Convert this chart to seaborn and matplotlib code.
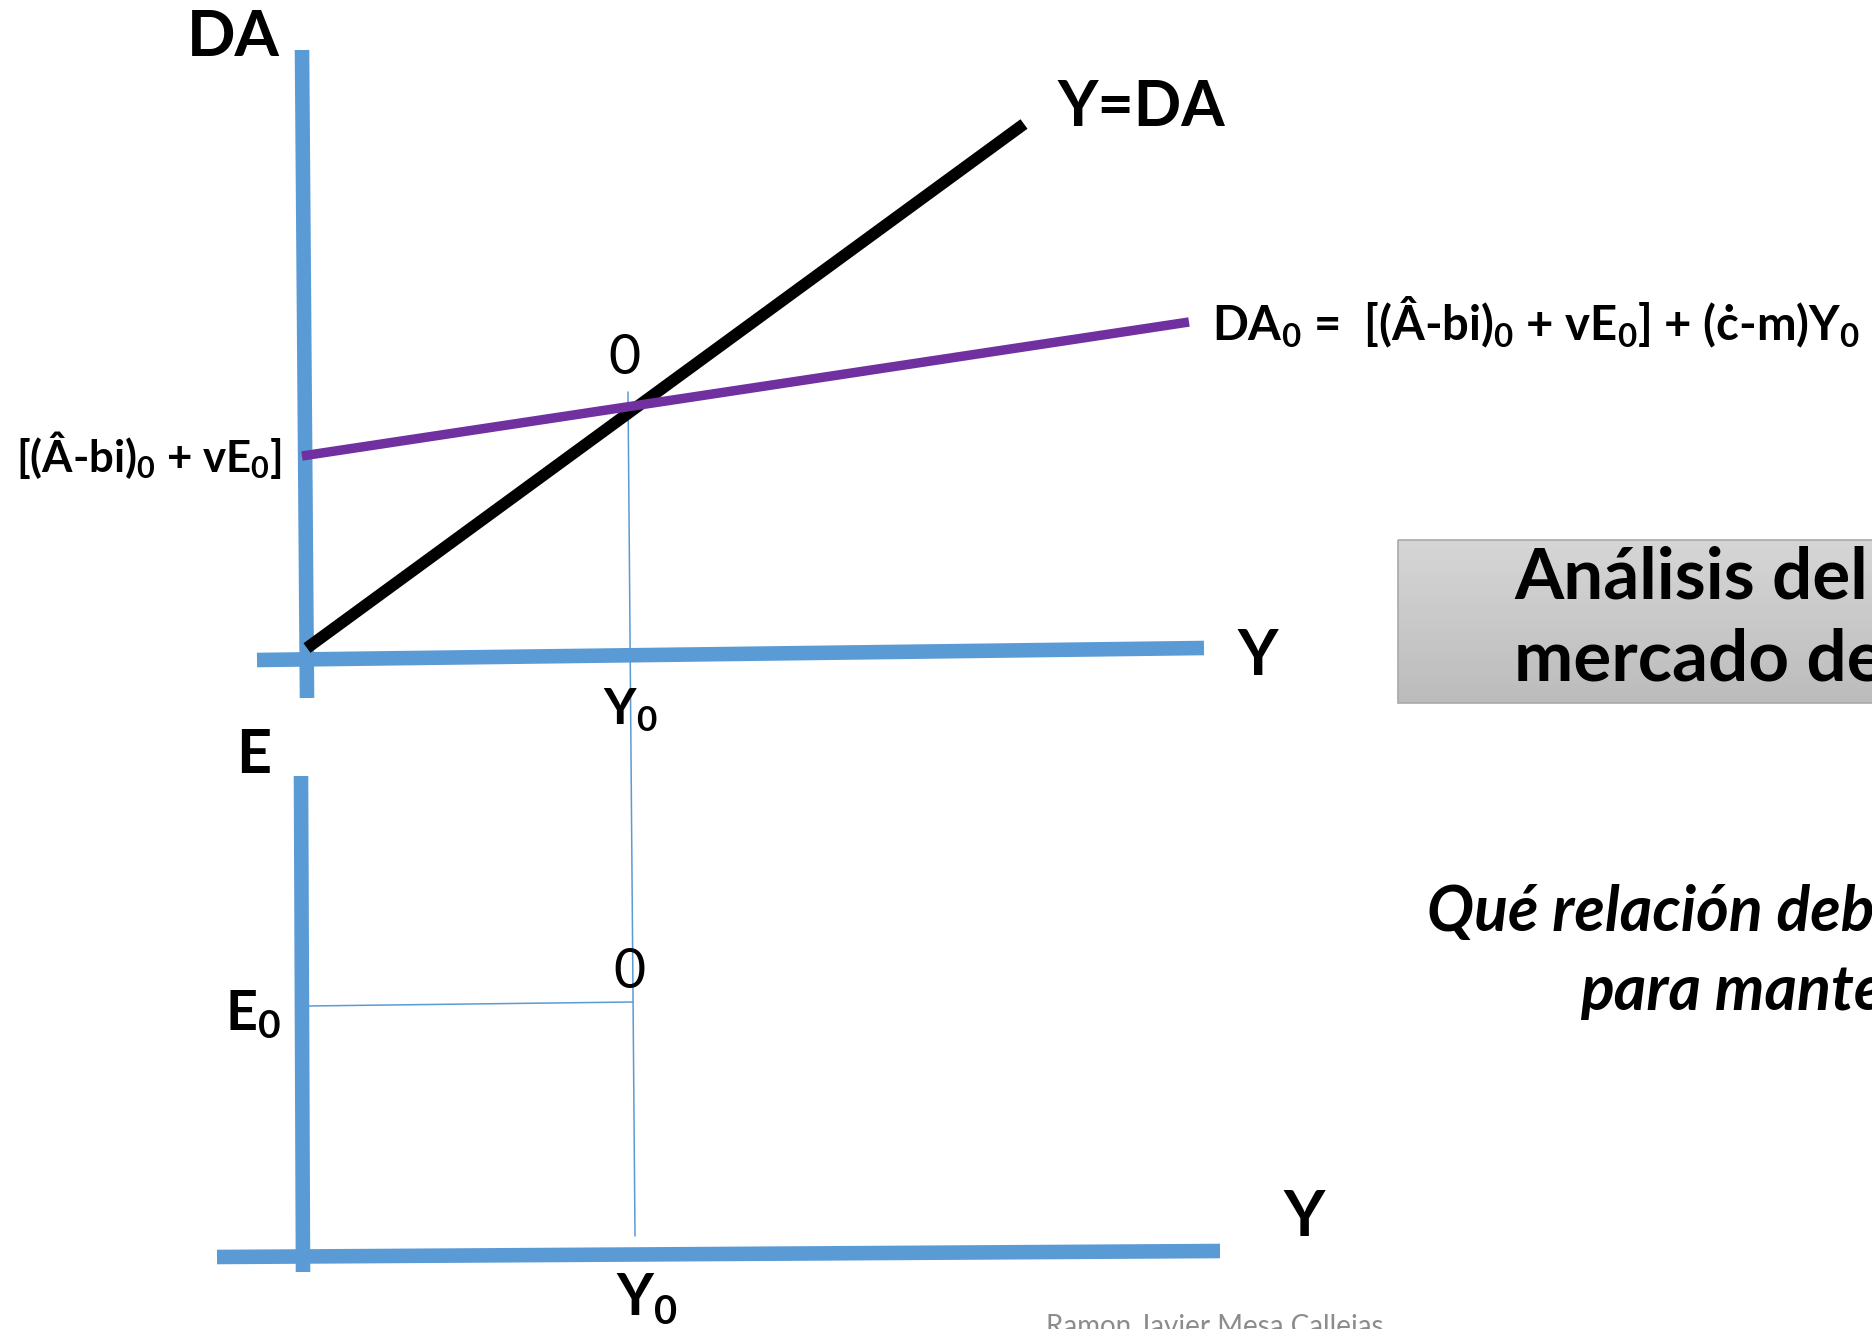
import numpy as np
import pandas as pd
import matplotlib
matplotlib.use('Agg')
import matplotlib.pyplot as plt
from matplotlib.patches import Rectangle
import seaborn as sns

# slide coordinates (pixels, y grows downward)
axis_x = [[302, 307], [257, 1204], [301, 303], [217, 1220]]
axis_y = [[50, 698], [660, 648], [776, 1272], [1257, 1251]]

ydA_x = [307, 1024]          # Y = DA (45 degree line)
ydA_y = [648, 124]
da0_x = [302, 1189]          # DA0 line
da0_y = [456, 322]

guide_x = [[628, 635], [307, 633]]   # Y0 vertical and E0 horizontal guides
guide_y = [[392, 1236], [1006, 1002]]

BLUE = '#5B9BD5'
PURPLE = '#7030A0'

sns.set_theme(style='white')
plt.rcParams['font.family'] = ['Lato', 'DejaVu Sans']
plt.rcParams['mathtext.fontset'] = 'custom'
plt.rcParams['mathtext.rm'] = 'Lato:bold'
plt.rcParams['mathtext.bf'] = 'Lato:bold'
plt.rcParams['mathtext.it'] = 'Lato:bold'
plt.rcParams['mathtext.default'] = 'bf'

fig = plt.figure(figsize=(18.72, 13.29), dpi=100)
ax = fig.add_axes([0, 0, 1, 1])

# title box with soft gray gradient
grad = np.linspace(0, 1, 100).reshape(-1, 1)
ax.imshow(grad, cmap=matplotlib.colors.LinearSegmentedColormap.from_list('g', ['#d6d6d6', '#bcbcbc']),
          extent=[1398, 1900, 703, 540], aspect='auto', zorder=0)
ax.add_patch(Rectangle((1398, 540), 520, 163, fill=False, edgecolor='#a9a9a9', lw=1.2, zorder=1))

for xs, ys in zip(axis_x, axis_y):
    sns.lineplot(x=xs, y=ys, sort=False, estimator=None, ax=ax, color=BLUE, lw=10.5, solid_capstyle='butt')
for xs, ys in zip(guide_x, guide_y):
    sns.lineplot(x=xs, y=ys, sort=False, estimator=None, ax=ax, color=BLUE, lw=1.1)
sns.lineplot(x=ydA_x, y=ydA_y, sort=False, estimator=None, ax=ax, color='black', lw=8.5, solid_capstyle='butt')
sns.lineplot(x=da0_x, y=da0_y, sort=False, estimator=None, ax=ax, color=PURPLE, lw=6.8, solid_capstyle='butt')

ax.set_xlim(0, 1872)
ax.set_ylim(1329, 0)
ax.axis('off')

bold = dict(fontweight='bold', color='black')
ax.text(233, 38, 'DA', fontsize=46, ha='center', va='center', **bold)
ax.text(1057, 108, 'Y=DA', fontsize=45, ha='left', va='center', **bold)
ax.text(1212, 322, 'DA$_0$ =  [(Â-bi)$_0$ + vE$_0$] + (ċ-m)Y$_0$', fontsize=34, ha='left', va='center', **bold)
ax.text(16, 455, '[(Â-bi)$_0$ + vE$_0$]', fontsize=31.5, ha='left', va='center', **bold)
ax.text(624, 358, '0', fontsize=40, ha='center', va='center', color='black')
ax.text(1258, 657, 'Y', fontsize=45, ha='center', va='center', **bold)
ax.text(630, 710, 'Y$_0$', fontsize=36, ha='center', va='center', **bold)
ax.text(254, 755, 'E', fontsize=44, ha='center', va='center', **bold)
ax.text(253, 1015, 'E$_0$', fontsize=40, ha='center', va='center', **bold)
ax.text(629, 973, '0', fontsize=40, ha='center', va='center', color='black')
ax.text(1304, 1218, 'Y', fontsize=46, ha='center', va='center', **bold)
ax.text(647, 1298, 'Y$_0$', fontsize=41, ha='center', va='center', **bold)

ax.text(1514, 578, 'Análisis del', fontsize=51, ha='left', va='center', **bold)
ax.text(1514, 660, 'mercado de', fontsize=51, ha='left', va='center', **bold)
ax.text(1427, 913, 'Qué relación debe', fontsize=45, ha='left', va='center', style='italic', **bold)
ax.text(1580, 991, 'para mantener', fontsize=45, ha='left', va='center', style='italic', **bold)
ax.text(1046, 1327, 'Ramon Javier Mesa Callejas', fontsize=20, ha='left', va='center', color='#8c8c8c')

fig.savefig('out.png', dpi=100)
